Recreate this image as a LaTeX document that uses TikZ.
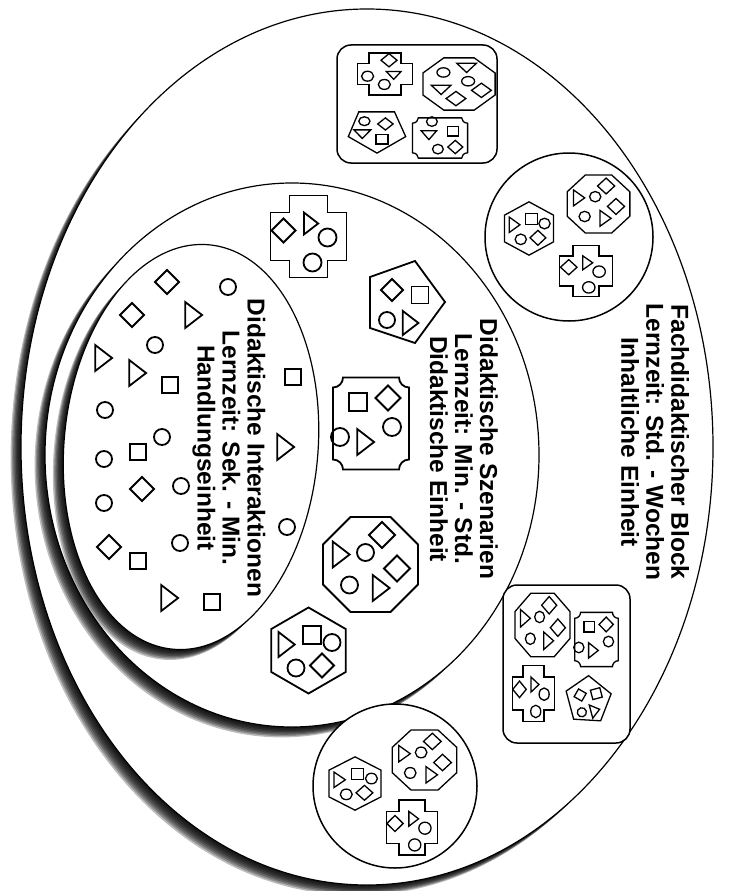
\documentclass[tikz,border=0pt]{standalone}
\usepackage{fontspec}
\setmainfont{Liberation Sans}
\newcommand\shpC[2]{\draw[shift={(#1)}] (0,0) circle (#2);}
\newcommand\shpD[2]{\draw[shift={(#1)}] (-#2,0)--(0,-#2)--(#2,0)--(0,#2)--cycle;}
\newcommand\shpS[2]{\draw[shift={(#1)}] (-#2,-#2) rectangle (#2,#2);}
\newcommand\shpT[2]{\draw[shift={(#1)}] (-0.6*#2,-#2)--(0.7*#2,0)--(-0.6*#2,#2)--cycle;}
\tikzset{
 lbl/.style={rotate=-90, align=center, inner sep=0pt, font=\fontsize{24.5}{25}\selectfont\bfseries},
 mt/.style={line width=1.8pt},
 gt/.style={line width=1.3pt},
 box/.style={draw, fill=white, line width=1.5pt},
 ell/.style={draw, fill=white, line width=1.2pt},
 shad/.style={fill=black, opacity=0.26},
 tcross/.pic={
  \draw[fill=white] (-19,-41) -- (19,-41) -- (19,-24) -- (38,-24) -- (38,24) -- (19,24) -- (19,41) -- (-19,41) -- (-19,24) -- (-38,24) -- (-38,-24) -- (-19,-24) -- cycle;
  \shpD{-25,-6}{12} \shpT{2,-13}{11} \shpC{19,1}{9} \shpC{4,26}{9}
 },
 tpent/.pic={
  \draw[fill=white] (-33,-25) -- (12,-41) -- (42,0) -- (12,41) -- (-33,26) -- cycle;
  \shpD{-11,-12}{11} \shpS{17,-7}{8.5} \shpC{-16,18}{8} \shpT{7,21}{12}
 },
 tnotch/.pic={
  \draw[fill=white] (-28,-46) -- (28,-46) .. controls (28,-40.5) and (32.5,-36) .. (38,-36)
   -- (38,36) .. controls (32.5,36) and (28,40.5) .. (28,46)
   -- (-28,46) .. controls (-28,40.5) and (-32.5,36) .. (-38,36)
   -- (-38,-36) .. controls (-32.5,-36) and (-28,-40.5) .. (-28,-46) -- cycle;
  \shpS{-13,-21.5}{9} \shpD{17,-25.5}{12.5} \shpC{21,3.5}{9} \shpC{-31,13.5}{9} \shpT{-6,18.5}{13}
 },
 toct/.pic={
  \draw[fill=white] (-20,-47.5) -- (20,-47.5) -- (47.5,-20) -- (47.5,20) -- (20,47.5) -- (-20,47.5) -- (-47.5,20) -- (-47.5,-20) -- cycle;
  \shpT{-30,-10}{13} \shpC{-5,-12}{8.5} \shpD{11.5,-29.5}{13} \shpD{26.5,4}{13} \shpC{-21,20.5}{8.5} \shpT{10,23.5}{13}
 },
 thex/.pic={
  \draw[fill=white] (0,-43) -- (37.2,-21.5) -- (37.2,21.5) -- (0,43) -- (-37.2,21.5) -- (-37.2,-21.5) -- cycle;
  \shpT{-22.5,-6}{12.5} \shpS{3.5,-15.5}{9} \shpC{23.5,-8}{8.5} \shpC{-12.5,17.5}{8.5} \shpD{13.5,15}{12}
 },
}
\begin{document}
\begin{tikzpicture}[x=1pt,y=-1pt,line join=miter]
\useasboundingbox (0,0) rectangle (729,891);
% outer ellipse
\foreach \k in {1,...,8} \fill[shad] (367-1.3*\k,447+1.3*\k) ellipse [x radius=346, y radius=438];
\path[ell] (367,447) ellipse [x radius=346, y radius=438];
% middle ellipse
\foreach \k in {1,...,8} \fill[shad] (292-1.3*\k,455+1.3*\k) ellipse [x radius=247, y radius=272];
\path[ell] (292,455) ellipse [x radius=247, y radius=272];
% inner ellipse
\foreach \k in {1,...,8} \fill[shad, rotate around={-5:(191-1.3*\k,447+1.3*\k)}] (191-1.3*\k,447+1.3*\k) ellipse [x radius=127, y radius=203];
\path[ell, rotate around={-5:(191,447)}] (191,447) ellipse [x radius=127, y radius=203];
% group containers
\path[box, rounded corners=14pt] (337,45) rectangle (497,163);
\path[box] (569,237) circle (84);
\path[box, rounded corners=14pt] (503,585) rectangle (630,743);
\path[box] (395,786) circle (82);
% group A
\pic[gt, xscale=.67, yscale=.55, rotate=-90] at (385,74) {tcross};
\pic[gt, xscale=.76, yscale=.55, rotate=-90] at (459,84) {toct};
\pic[gt, xscale=.70, yscale=.55, rotate=-90] at (377,130) {tpent};
\pic[gt, xscale=.60, yscale=.53, rotate=-90] at (440,138) {tnotch};
% group B
\pic[gt, xscale=.66, yscale=.62] at (529,228.5) {thex};
\pic[gt, xscale=.66, yscale=.61] at (598.5,204) {toct};
\pic[gt, xscale=.69, yscale=.63] at (586,271) {tcross};
% group C
\pic[gt, xscale=.58, yscale=.67] at (542.5,625) {toct};
\pic[gt, xscale=.57, yscale=.59] at (596.5,639.5) {tnotch};
\pic[gt, xscale=.56, yscale=.69] at (533.5,693.5) {tcross};
\pic[gt, scale=.57, rotate=15] at (588,700) {tpent};
% group D
\pic[gt, xscale=.70, yscale=.62] at (355,783.5) {thex};
\pic[gt, xscale=.68, yscale=.63] at (424.5,760) {toct};
\pic[gt, xscale=.68, yscale=.67] at (412,827.5) {tcross};
% middle tiles
\pic[mt] at (308.5,236.5) {tcross};
\pic[mt] at (403,302) {tpent};
\pic[mt] at (371,423.5) {tnotch};
\pic[mt] at (370.5,564.5) {toct};
\pic[mt] at (308.5,650.5) {thex};
% inner scattered shapes
\begin{scope}[mt]
\shpD{167,282}{12} \shpC{228,287}{8} \shpD{132,315}{12} \shpT{193,315}{13}
\shpC{155,345}{8} \shpT{103,358}{13} \shpT{137,373}{13} \shpS{293,377}{8}
\shpS{170,385}{8} \shpC{105,410}{8} \shpC{162,437}{8} \shpT{285,447}{13}
\shpS{138,452}{8} \shpC{104,459}{8} \shpD{142,489}{12} \shpC{181,486}{8}
\shpC{104,503}{8} \shpC{287,527}{8} \shpC{180,543}{8} \shpD{109,547}{12}
\shpS{138,561}{8} \shpT{169,598}{13} \shpS{212,602}{8}
\end{scope}
% texts
\node[lbl] (tOuter) at (655,442) {Fachdidaktischer Block\\Lernzeit: Std. - Wochen\\Inhaltliche Einheit};
\node[lbl] (tMid) at (464,449) {Didaktische Szenarien\\Lernzeit: Min. - Std.\\Didaktische Einheit};
\node[lbl] (tIn) at (229,448) {Didaktische Interaktionen\\Lernzeit: Sek. - Min.\\Handlungseinheit};
\end{tikzpicture}
\end{document}
